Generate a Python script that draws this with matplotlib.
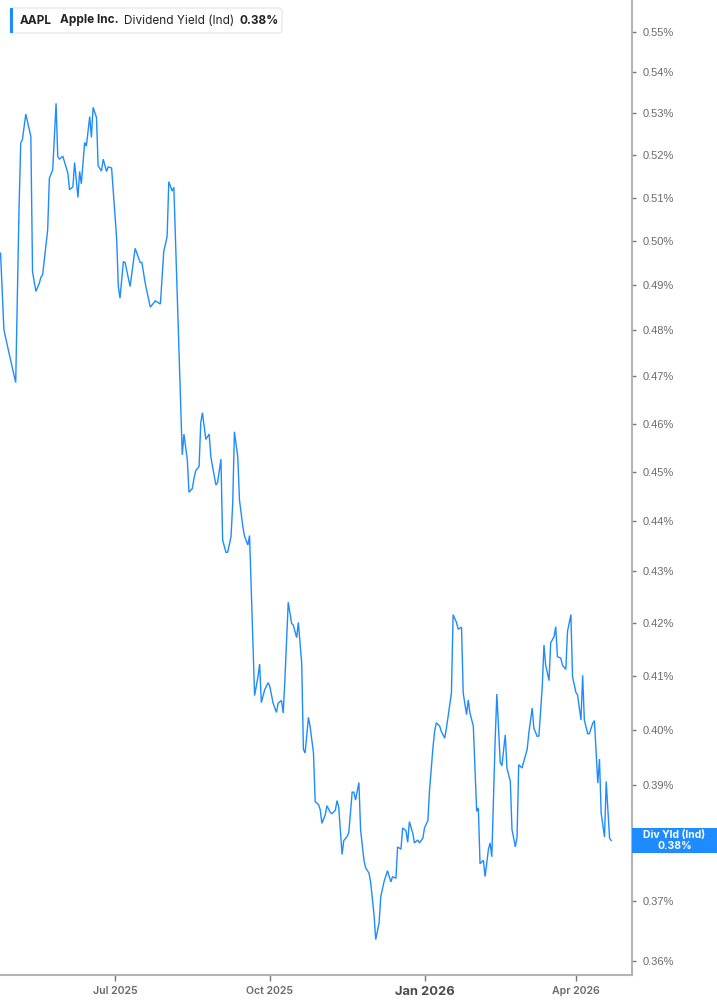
import matplotlib
matplotlib.use("Agg")
import matplotlib.pyplot as plt
import matplotlib.dates as mdates
from matplotlib.patches import FancyBboxPatch, Rectangle
from matplotlib.ticker import NullLocator
import pandas as pd

# data: day offsets from the first point, yield in %
start_date = pd.Timestamp("2025-04-24")
day_offset = [
    0, 2, 5, 9, 11, 12, 13, 15, 18, 19, 21, 23, 24, 25, 28, 29, 31, 33, 34, 35,
    37, 40, 41, 43, 44, 46, 47, 48, 50, 51, 53, 54, 55, 57, 58, 60, 61, 63, 64, 66,
    69, 70, 71, 73, 74, 77, 80, 83, 84, 86, 89, 92, 95, 97, 99, 100, 102, 103,
    108, 109, 111, 112, 114, 115, 116, 118, 119, 120, 122, 124, 125, 126, 128, 129,
    131, 132, 134, 135, 137, 138, 139, 141, 142, 144, 145, 147, 148, 151, 153, 154,
    155, 157, 159, 160, 162, 164, 165, 167, 168, 169,
    171, 173, 174, 176, 177, 179, 180, 181, 183, 184, 186, 187, 189, 190, 191, 193,
    194, 196, 197, 199, 200, 201, 203, 204, 206, 207, 209, 210, 211, 213, 214, 216,
    217, 219, 220, 222, 223, 225, 226, 228, 230, 232, 233, 235, 236, 238, 239, 241,
    242, 243,
    245, 246, 248, 249, 251, 252, 254, 255, 257, 258, 259, 261, 262, 264, 265, 266,
    268, 269, 271, 272, 274, 275, 277, 278, 279, 281, 283, 284, 285, 287, 288, 290,
    291, 292, 294, 295, 297, 298, 300, 301, 303, 304, 306, 307, 308, 310, 311, 313,
    314, 316,
    317, 319, 320, 322, 323, 324, 326, 327, 329, 330, 331, 333, 334, 336, 337, 339,
    340, 342, 343, 345, 346, 347, 349, 350, 352, 353, 355, 356, 357, 359, 360, 362, 363,
]
div_yield = [
    0.4972, 0.4801, 0.4751, 0.4687, 0.5079, 0.5228, 0.5237, 0.5298, 0.5244, 0.4930,
    0.4886, 0.4904, 0.4918, 0.4923, 0.5025, 0.5145, 0.5165, 0.5324, 0.5196, 0.5190,
    0.5197, 0.5157, 0.5118, 0.5125, 0.5182, 0.5100, 0.5161, 0.5132, 0.5230, 0.5221,
    0.5292, 0.5242, 0.5314, 0.5290, 0.5174, 0.5162, 0.5190, 0.5161, 0.5172, 0.5169,
    0.5006, 0.4897, 0.4871, 0.4953, 0.4951, 0.4897, 0.4983, 0.4951, 0.4951, 0.4904,
    0.4851, 0.4865, 0.4858, 0.4976, 0.5010, 0.5137, 0.5115, 0.5124,
    0.4535, 0.4578, 0.4525, 0.4458, 0.4466, 0.4487, 0.4502, 0.4511, 0.4602, 0.4623,
    0.4567, 0.4578, 0.4531, 0.4511, 0.4473, 0.4478, 0.4526, 0.4362, 0.4337, 0.4338,
    0.4369, 0.4436, 0.4583, 0.4531, 0.4443, 0.4389, 0.4370, 0.4352, 0.4371, 0.4063,
    0.4098, 0.4122, 0.4050, 0.4074, 0.4087, 0.4081, 0.4049, 0.4032, 0.4049, 0.4054,
    0.4031, 0.4092,
    0.4240, 0.4199, 0.4196, 0.4172, 0.4201, 0.4124, 0.3965, 0.3958, 0.4023, 0.4006,
    0.3958, 0.3871, 0.3866, 0.3857, 0.3833, 0.3848, 0.3864, 0.3852, 0.3850, 0.3856,
    0.3873, 0.3862, 0.3779, 0.3803, 0.3810, 0.3817, 0.3888, 0.3888, 0.3874, 0.3905,
    0.3822, 0.3769, 0.3756, 0.3747, 0.3731, 0.3676, 0.3635, 0.3663, 0.3707, 0.3733,
    0.3751, 0.3732, 0.3741, 0.3738, 0.3792, 0.3788, 0.3825, 0.3820, 0.3800, 0.3836,
    0.3816, 0.3799, 0.3804, 0.3799, 0.3807, 0.3825, 0.3838, 0.3892, 0.3967, 0.3997,
    0.4013, 0.4007, 0.3997, 0.3985, 0.4003, 0.4024, 0.4068, 0.4216, 0.4201, 0.4188,
    0.4192, 0.4068, 0.4028, 0.4055, 0.4031, 0.4007, 0.3854, 0.3860, 0.3763, 0.3769,
    0.3741, 0.3788, 0.3799, 0.3775, 0.3982, 0.4066, 0.3941, 0.3935, 0.3991, 0.3931,
    0.3907, 0.3822, 0.3792, 0.3809, 0.3937, 0.3931, 0.3943, 0.3964, 0.3994, 0.4040,
    0.4003, 0.3988, 0.3989, 0.4080, 0.4158, 0.4120, 0.4091, 0.4162, 0.4174, 0.4193,
    0.4136, 0.4133, 0.4120, 0.4112, 0.4184, 0.4216, 0.4098, 0.4069, 0.4064, 0.4018,
    0.4101, 0.4018, 0.3993, 0.3993, 0.4012, 0.4017, 0.3904, 0.3947, 0.3851, 0.3809,
    0.3907, 0.3807, 0.3803,
]

ytick_values = [0.36, 0.37, 0.38, 0.39, 0.40, 0.41, 0.42, 0.43, 0.44, 0.45,
                0.46, 0.47, 0.48, 0.49, 0.50, 0.51, 0.52, 0.53, 0.54, 0.55]
xtick_dates = ["2025-07-01", "2025-10-01", "2026-01-01", "2026-04-01"]
xtick_labels = ["Jul 2025", "Oct 2025", "Jan 2026", "Apr 2026"]

ticker = "AAPL"
company = "Apple Inc."
metric = "Dividend Yield (Ind)"
tag_title = "Div Yld (Ind)"
last_value = div_yield[-1]

LINE_BLUE = "#1e8cff"
AXIS_GREY = "#b4b4b4"
LABEL_GREY = "#6a6a6a"

dates = start_date + pd.to_timedelta(day_offset, unit="D")

fig = plt.figure(figsize=(7.17, 10.05), dpi=100)
ax = fig.add_axes([0.0, 30 / 1005, 632 / 717, 975 / 1005])

ax.plot(dates, div_yield, color=LINE_BLUE, linewidth=1.0, solid_joinstyle="miter")

ax.set_yscale("log")
ax.set_ylim(0.35767, 0.5581)
ax.set_xlim(pd.Timestamp("2025-04-23 16:00"), pd.Timestamp("2026-05-04 08:00"))

# y axis on the right
ax.yaxis.tick_right()
ax.yaxis.set_minor_locator(NullLocator())
ax.set_yticks(ytick_values)
ax.set_yticklabels([f"{v:.2f}%" for v in ytick_values],
                   fontfamily="Liberation Sans", fontsize=8, color=LABEL_GREY)
ax.tick_params(axis="y", direction="out", length=3, width=1, color="#777777", pad=5)

# x axis
ax.set_xticks([mdates.date2num(pd.Timestamp(d)) for d in xtick_dates])
ax.set_xticklabels(xtick_labels, fontfamily="Inter", fontsize=7.6,
                   fontweight="semibold", color=LABEL_GREY)
ax.xaxis.set_minor_locator(NullLocator())
ax.tick_params(axis="x", direction="out", length=4, width=1, color="#777777", pad=4)
jan = ax.get_xticklabels()[2]
jan.set_fontsize(9.3)
jan.set_fontweight("bold")
jan.set_color("#4a4a4a")

for side in ["top", "left"]:
    ax.spines[side].set_visible(False)
for side in ["right", "bottom"]:
    ax.spines[side].set_color(AXIS_GREY)
    ax.spines[side].set_linewidth(1.5)

# legend box top left (inches from bottom-left)
trans = fig.dpi_scale_trans
box = FancyBboxPatch((0.10, 9.72), 2.72, 0.25,
                     boxstyle="round,pad=0,rounding_size=0.03",
                     facecolor="white", edgecolor="#e3e3e3", linewidth=0.8,
                     transform=trans, zorder=5)
fig.patches.append(box)
fig.patches.append(Rectangle((0.10, 9.72), 0.03, 0.25, facecolor=LINE_BLUE,
                             edgecolor="none", transform=trans, zorder=6))
ty = 9.845
fig.text(0.20, ty, ticker, transform=trans, fontfamily="Inter", fontsize=8.5,
         fontweight="bold", color="#222222", va="center", zorder=7)
fig.text(0.60, ty, company, transform=trans, fontfamily="Inter", fontsize=8.5,
         fontweight="bold", color="#222222", va="center", zorder=7)
fig.text(1.24, ty, metric, transform=trans, fontfamily="Inter", fontsize=8.5,
         color="#222222", va="center", zorder=7)
fig.text(2.39, ty, f"{last_value:.2f}%", transform=trans, fontfamily="Inter",
         fontsize=8.5, fontweight="bold", color="#222222", va="center", zorder=7)

# value tag on the right axis
fig.patches.append(Rectangle((6.32, 1.52), 0.85, 0.255, facecolor=LINE_BLUE,
                             edgecolor="none", transform=trans, zorder=8))
fig.text(6.745, 1.70, tag_title, transform=trans, fontfamily="Inter", fontsize=7.5,
         fontweight="bold", color="white", ha="center", va="center", zorder=9)
fig.text(6.745, 1.59, f"{last_value:.2f}%", transform=trans, fontfamily="Inter",
         fontsize=7.5, fontweight="bold", color="white", ha="center", va="center",
         zorder=9)

fig.savefig("out.png", dpi=100)
